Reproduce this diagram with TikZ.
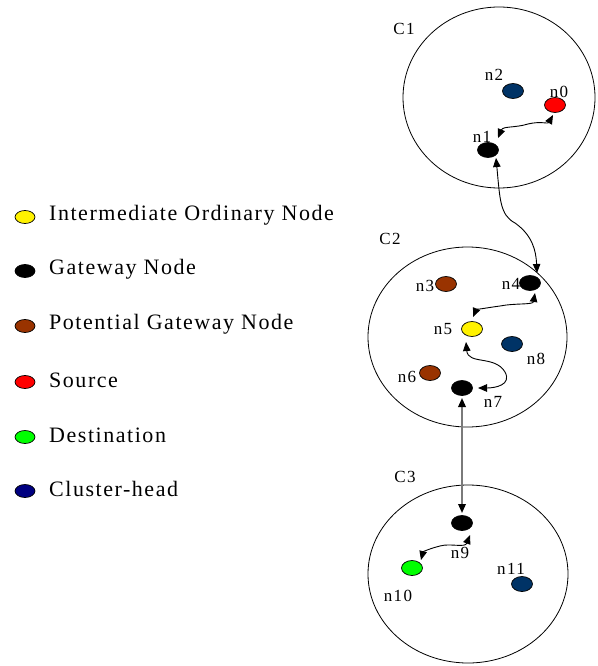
\documentclass[tikz,border=0pt]{standalone}
\usepackage{fontspec}
\setmainfont{Liberation Serif}
\newfontfamily\lblfont{Liberation Serif}[LetterSpace=8]
\newfontfamily\legfont{Liberation Serif}[LetterSpace=7]
\usetikzlibrary{arrows.meta,calc,shapes.geometric}
\definecolor{pgwbrown}{HTML}{993300}
\definecolor{chblue}{HTML}{003366}
\definecolor{legnavy}{HTML}{000080}
\definecolor{dstgreen}{HTML}{00FF00}
\definecolor{linkgray}{HTML}{7A7A7A}
\begin{document}
\begin{tikzpicture}[x=1pt,y=-1pt,
  dot/.style={ellipse,draw=black,line width=0.7pt,minimum width=21pt,minimum height=15pt,inner sep=0pt},
  legdot/.style={ellipse,draw=black,line width=0.7pt,minimum width=20pt,minimum height=13pt,inner sep=0pt},
  cluster/.style={draw=black,line width=0.8pt},
  lbl/.style={font=\lblfont\fontsize{17}{17}\selectfont,inner sep=0pt},
  legtext/.style={font=\legfont\fontsize{22}{22}\selectfont,anchor=west,inner sep=0pt},
  head/.style={Triangle[length=9pt,width=7.5pt,color=black]},
  link/.style={{Triangle[length=9pt,width=7.5pt]}-{Triangle[length=9pt,width=7.5pt]},line width=0.9pt,black},
  trunk/.style={{Triangle[length=9pt,width=7.5pt,color=black]}-{Triangle[length=9pt,width=7.5pt,color=black]},line width=1.8pt,linkgray}]
\useasboundingbox[fill=white] (0,0) rectangle (597,666);

% clusters
\draw[cluster] (499,97.5) ellipse [x radius=96, y radius=90.5];
\draw[cluster] (467.5,337) ellipse [x radius=99.5, y radius=90];
\draw[cluster] (468,574) ellipse [x radius=100, y radius=89];
\node[lbl] (c1) at (404,29) {C1};
\node[lbl] (c2) at (390,239) {C2};
\node[lbl] (c3) at (405,477) {C3};

% cluster C1
\node[dot,fill=red] (n0) at (555,105) {};
\node[dot,fill=black] (n1) at (488,150) {};
\node[dot,fill=chblue] (n2) at (513,91) {};
\node[lbl] (l0) at (559,92) {n0};
\node[lbl] (l1) at (482,137) {n1};
\node[lbl] (l2) at (494,75) {n2};

% cluster C2
\node[dot,fill=pgwbrown] (n3) at (446,284) {};
\node[dot,fill=black] (n4) at (530,283) {};
\node[dot,fill=yellow] (n5) at (472,329) {};
\node[dot,fill=pgwbrown] (n6) at (430,373) {};
\node[dot,fill=black] (n7) at (462,388) {};
\node[dot,fill=chblue] (n8) at (512,344) {};
\node[lbl] (l3) at (425,286) {n3};
\node[lbl] (l4) at (511,284) {n4};
\node[lbl] (l5) at (443,329) {n5};
\node[lbl] (l6) at (407,377) {n6};
\node[lbl] (l7) at (493,402) {n7};
\node[lbl] (l8) at (536,359) {n8};

% cluster C3
\node[dot,fill=black] (n9) at (462,523) {};
\node[dot,fill=dstgreen] (n10) at (412,568) {};
\node[dot,fill=chblue] (n11) at (522,584) {};
\node[lbl] (l9) at (460,553) {n9};
\node[lbl] (l10) at (398,596) {n10};
\node[lbl] (l11) at (511,569) {n11};

% route links
\draw[link] ($(n1)+(10,-12)$) .. controls (503,126) and (515,128) .. (528,124)
  .. controls (540,121) and (548,124) .. ($(n0)+(-2,10)$);
\draw[link] ($(n1)+(8,8)$) .. controls (500,200) and (500,215) .. (515,223)
  .. controls (532,235) and (536,250) .. ($(n4)+(7,-10)$);
\draw[link] ($(n4)+(5,10)$) .. controls (533,305) and (515,303) .. (500,306)
  .. controls (485,308) and (476,310) .. ($(n5)+(1,-12)$);
\draw[link] ($(n5)+(-6,13)$) .. controls (468,365) and (495,355) .. (505,372)
  .. controls (512,385) and (495,388) .. ($(n7)+(16,0)$);
\draw[trunk] ($(n7)+(0,10)$) -- ($(n9)+(0,-10)$);
\draw[link] ($(n9)+(8,12)$) .. controls (465,548) and (450,543) .. (440,546)
  .. controls (428,549) and (423,552) .. ($(n10)+(9,-8)$);

% legend
\node[legdot,fill=yellow] (k1) at (25,217) {};
\node[legdot,fill=black] (k2) at (25,271) {};
\node[legdot,fill=pgwbrown] (k3) at (25,326) {};
\node[legdot,fill=red] (k4) at (25,382) {};
\node[legdot,fill=dstgreen] (k5) at (25,437) {};
\node[legdot,fill=legnavy] (k6) at (25,491) {};
\node[legtext] (t1) at (49,215) {Intermediate Ordinary Node};
\node[legtext] (t2) at (49,269) {Gateway Node};
\node[legtext] (t3) at (49,324) {Potential Gateway Node};
\node[legtext] (t4) at (49,380) {Source};
\node[legtext] (t5) at (49,435) {Destination};
\node[legtext] (t6) at (49,489) {Cluster-head};
\end{tikzpicture}
\end{document}
